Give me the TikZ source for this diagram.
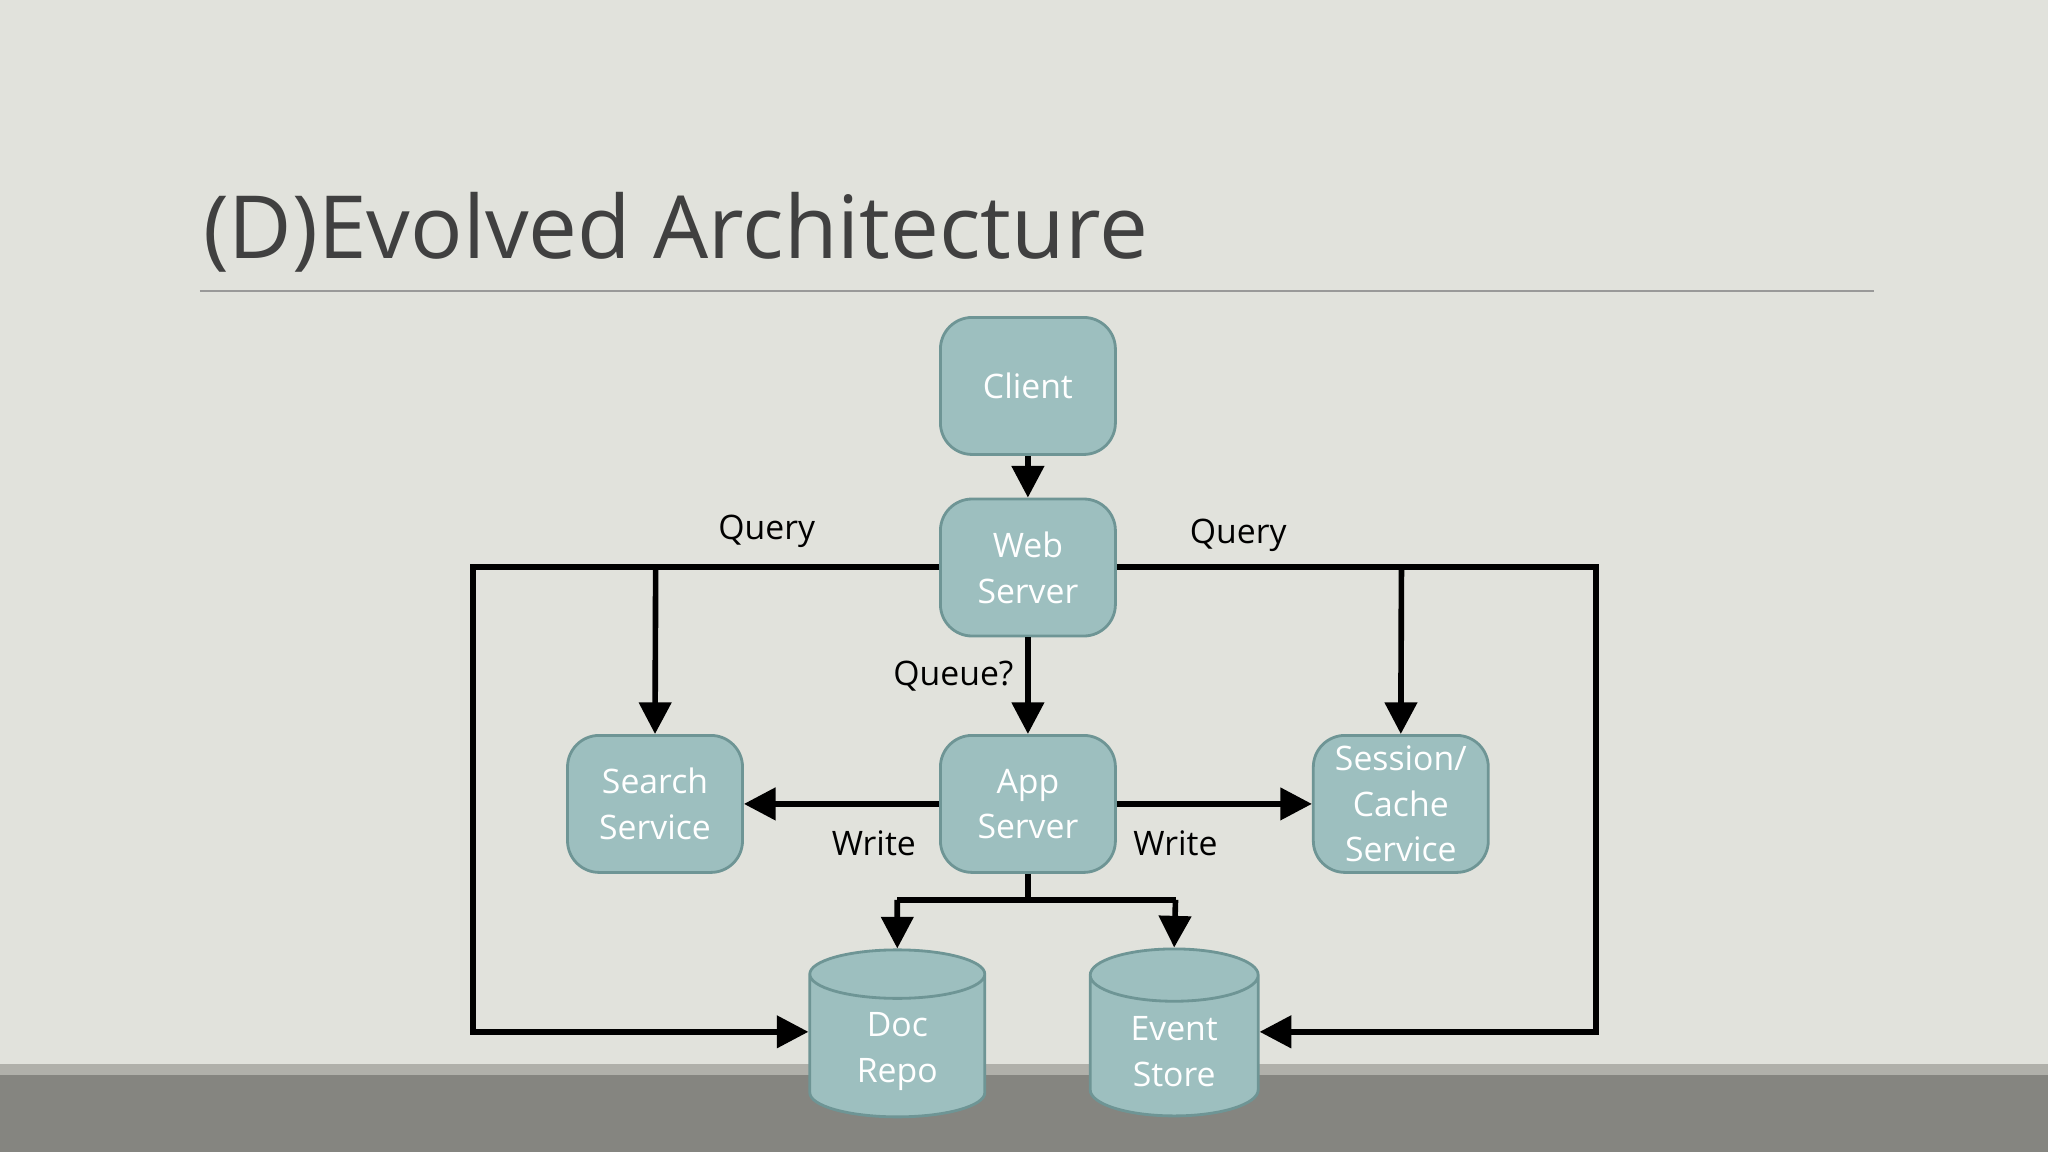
\documentclass[tikz,border=0pt]{standalone}
\usepackage{fontspec}
\setmainfont{Open Sans}
\usetikzlibrary{shapes.geometric,arrows.meta}
\definecolor{bg}{HTML}{E1E2DC}
\definecolor{boxf}{HTML}{9DBFBF}
\definecolor{boxd}{HTML}{6E9595}
\definecolor{band}{HTML}{858580}
\definecolor{bandl}{HTML}{B0B0AA}
\definecolor{ttl}{HTML}{404040}
\begin{document}
\begin{tikzpicture}[x=0.013061cm,y=-0.013061cm,
  box/.style={draw=boxd,fill=boxf,line width=0.8pt,rounded corners=9pt,
    text=white,font=\fontsize{9.6}{13}\selectfont,align=center,inner sep=0pt},
  db/.style={draw=boxd,fill=boxf,line width=0.8pt,cylinder,shape border rotate=90,aspect=0.6,
    text=white,font=\fontsize{9.6}{13}\selectfont,align=center,inner sep=0pt},
  dbt/.style={text=white,font=\fontsize{9.6}{13}\selectfont,align=center},
  lab/.style={font=\fontsize{9.6}{13}\selectfont,text=black},
  conn/.style={line width=1.6pt,black},
  arr/.style={conn,-{Triangle[length=9pt,width=9pt]}}]
\fill[bg] (0,0) rectangle (1568,882);
\fill[bandl] (0,815) rectangle (1568,823);
\fill[band] (0,823) rectangle (1568,882);
\node[anchor=base west,text=ttl,font=\fontsize{24.8}{30}\selectfont,inner sep=0pt] (title) at (155,198) {(D)Evolved Architecture};
\draw[gray!80,line width=0.6pt] (153,223) coordinate (l1) -- (1435,223) coordinate (l2);
\node[box,minimum width=1.75cm,minimum height=1.37cm] (client) at (787,295.5) {Client};
\node[box,minimum width=1.75cm,minimum height=1.37cm] (web) at (787,434.5) {Web\\Server};
\node[box,minimum width=1.75cm,minimum height=1.37cm] (app) at (787,615.5) {App\\Server};
\node[box,minimum width=1.75cm,minimum height=1.37cm] (search) at (501.5,615.5) {Search\\Service};
\node[box,minimum width=1.75cm,minimum height=1.37cm] (sess) at (1072.5,615.5) {Session/\\Cache\\Service};
\node[db,minimum width=1.75cm,minimum height=1.67cm] (doc) at (687,801) {\phantom{Doc}\\\phantom{Repo}};
\node[db,minimum width=1.68cm,minimum height=1.67cm] (ev) at (899,801) {\phantom{Event}\\\phantom{Store}};
\node[dbt] (doct) at (687,805) {Doc\\Repo};
\node[dbt] (evt) at (899,805) {Event\\Store};
\draw[arr] (client) -- (web);
\draw[arr] (web) -- node[lab,left,pos=0.4]{Queue?} (app);
\draw[arr] (web.west |- 0,434) -| (362,790) -- (doc.west |- 0,790);
\draw[arr] (502,434) -- (search.north);
\draw[arr] (web.east |- 0,434) -| (1222,790) -- (ev.east |- 0,790);
\draw[arr] (1073,434) -- (sess.north);
\draw[arr] (app.west) -- (search.east);
\draw[arr] (app.east) -- (sess.west);
\draw[conn] (app.south) -- (787,689);
\draw[arr] (687,689) -- (doc.north);
\draw[arr] (900,689) -- (ev.north);
\draw[conn] (687,689) -- (900,689);
\node[lab] (q1) at (587,407) {Query};
\node[lab] (q2) at (948,410) {Query};
\node[lab] (w1) at (669,646) {Write};
\node[lab] (w2) at (900,646) {Write};
\end{tikzpicture}
\end{document}
